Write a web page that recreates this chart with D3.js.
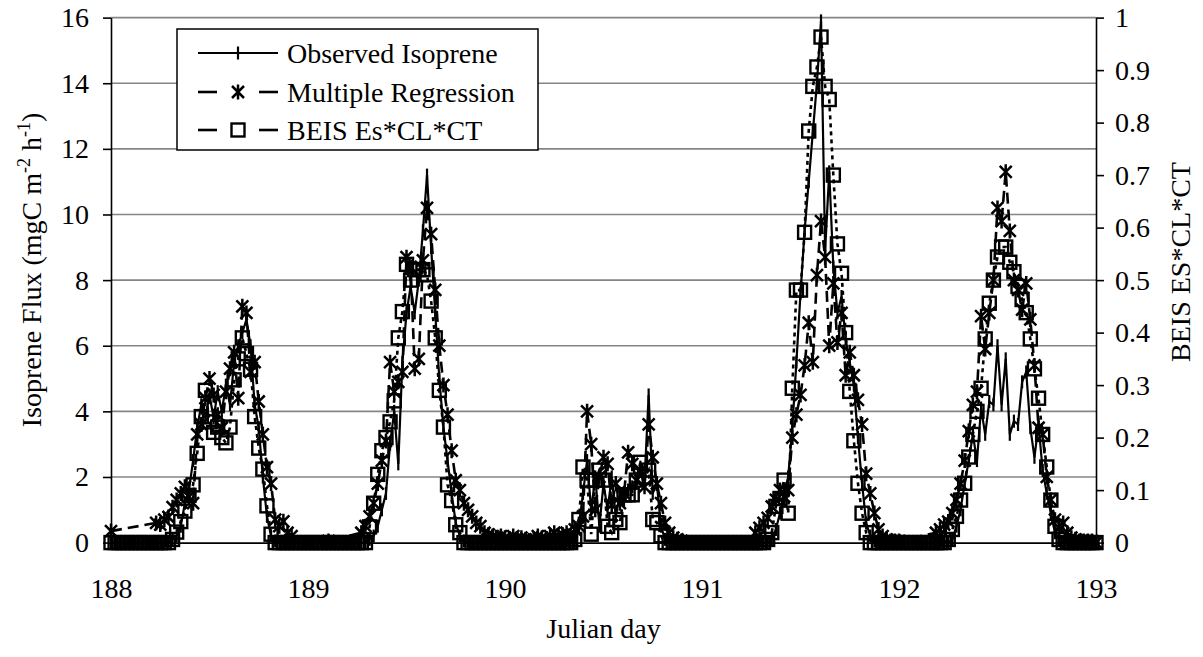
<!DOCTYPE html>
<html><head><meta charset="utf-8">
<script src="https://cdn.jsdelivr.net/npm/d3@7"></script>
<style>
html,body{margin:0;padding:0;background:#fff;}
svg text{font-family:'Liberation Serif','Times New Roman',Times,'DejaVu Serif',serif;fill:#000;}
</style></head><body>
<svg id="chart" width="1203" height="657"></svg>
<script>
// ---------------- data ----------------
const dayTicks = [188, 189, 190, 191, 192, 193];
const fluxTicks = [0, 2, 4, 6, 8, 10, 12, 14, 16];
const beisTicks = [0, 0.1, 0.2, 0.3, 0.4, 0.5, 0.6, 0.7, 0.8, 0.9, 1];
const samplesPerDay = 48; // half-hourly
const legendLabels = ["Observed Isoprene", "Multiple Regression", "BEIS Es*CL*CT"];

// Observed isoprene flux (mgC m-2 h-1), one row per Julian day, half-hourly
const observedByDay = [
  [0,0,0,0,0,0,0,0,0,0,0,0,0,0,0, 0.1,0.2,0.5,1.2,1.6,2.5,3.5,4.2,3.8,4.5,3.8,4.6,4.0,4.8,4.2,5.5,6.0,6.4,6.8,6.0,4.2,3.5,2.0,0.8,0.2,0.05, 0,0,0,0,0,0,0],
  [0,0,0,0,0,0,0,0,0,0,0,0,0,0,0, 0.1,0.2,0.5,1.0,1.5,3.0,4.0,2.4,5.5,7.0,7.8,7.0,8.0,9.5,11.2,9.0,7.0,5.0,3.5,2.5,1.5,0.6,0.2,0.05, 0,0,0,0,0,0,0,0,0],
  [0,0,0,0,0,0,0,0,0,0,0,0,0,0,0,0,0,0, 0.5,1.5,2.5,1.0,2.0,0.5,1.8,1.0,2.0,0.8,1.5,1.3,1.6,1.7,1.8,2.3,1.9,4.5,1.5,1.8,0.5,0.1, 0,0,0,0,0,0,0,0],
  [0,0,0,0,0,0,0,0,0,0,0,0,0,0,0,0,0, 0.1,0.4,0.9,1.5,2.0,3.5,5.5,7.6,9.5,11.0,12.5,14.0,15.9,8.9,11.3,8.4,7.0,7.5,6.2,5.5,4.8,3.2,1.8,0.6,0.2,0.05, 0,0,0,0,0],
  [0,0,0,0,0,0,0,0,0,0,0,0,0, 0.1,0.5,1.0,1.8,2.5,3.3,2.5,4.1,3.3,4.3,4.2,6.0,4.2,5.6,3.3,3.7,3.6,4.9,5.2,3.5,2.6,3.6,2.2,1.5,0.9,0.3,0.1, 0,0,0,0,0,0,0,0],
  [0]
];

// Multiple regression estimate (mgC m-2 h-1); null = no estimate
const regressionByDay = [
  [0.35, null,null,null,null,null,null,null,null,null,null, 0.6,0.55,0.7,0.78,1.08,1.3,1.5,1.7,1.4,1.2,3.3,3.6,4.4,5.0,4.5,3.9,3.5,4.6,5.3,5.8,4.4,7.2,7.0,5.2,5.5,4.3,3.3,2.3,1.8,0.7,0.5,0.65,0.3,0.2, null,null,null],
  [null,null,null,null,null, 0.05, null,null,null,null,null,null,null, 0.3,0.5,0.8,1.2,1.8,2.5,3.1,5.5,4.6,4.9,5.2,8.7,8.4,5.3,5.6,8.6,10.2,9.4,7.7,6.0,4.8,3.9,2.8,1.9,1.6,1.2,1.0,0.8,0.6,0.5,0.3,0.25,0.2,0.15,0.2],
  [0.15,0.1,0.2,0.1,0.15,0.1,0.05,0.1,0.2,0.15,0.1,0.2,0.3,0.2,0.25,0.3,0.2,0.4, 0.5,0.8,4.0,3.0,1.0,2.0,2.6,2.4,1.15,1.8,1.2,1.5,2.75,2.4,1.9,2.2,1.7,3.6,2.6,1.8,1.2,0.6,0.3,0.15, 0.1,0.05,0,0,0,0],
  [0,0,0,0,0,0,0,0,0,0,0,0,0, 0.3,0.45,0.6,0.75,1.1,1.3,1.6,1.4,1.6,3.2,3.9,4.5,5.4,6.7,5.5,8.15,9.8,8.7,6.0,7.9,6.1,7.0,5.1,5.8,5.1,4.35,3.6,2.1,1.5,0.9,0.4,0.2, 0.1,0.05,0.05],
  [0.05, null,null,null,null,null,null,null,null, 0.3,0.4,0.55,0.64,0.9,1.3,1.8,2.5,3.4,4.2,4.6,6.9,5.9,7.0,8.0,10.2,9.8,11.3,9.5,8.0,7.7,7.1,7.9,6.8,5.4,3.5,3.3,2.0,1.3,0.7,0.45,0.6,0.3,0.15, 0.1,0.05,0.05,0.05,0.05],
  [0]
];

// BEIS Es*CL*CT (right axis, 0-1)
const beisByDay = [
  [0,0,0,0,0,0,0,0,0,0,0,0,0,0,0, 0.006,0.02,0.04,0.06,0.09,0.11,0.17,0.24,0.29,0.23,0.21,0.22,0.2,0.19,0.22,0.31,0.35,0.39,0.36,0.33,0.24,0.18,0.14,0.07,0.016, 0,0,0,0,0,0,0,0],
  [0,0,0,0,0,0,0,0,0,0,0,0,0,0,0, 0.03,0.075,0.13,0.175,0.2,0.23,0.27,0.39,0.44,0.53,0.5,0.52,0.52,0.52,0.51,0.46,0.39,0.29,0.22,0.11,0.08,0.034,0.019, 0,0,0,0,0,0,0,0,0,0],
  [0,0,0,0,0,0,0,0,0,0,0,0,0,0,0,0,0, 0.006,0.044,0.144,0.119,0.016,0.119,0.138,0.119,0.031,0.019,0.044,0.038,0.091,0.091,0.091,0.119,0.153,0.125,0.138,0.044,0.038,0.013, 0,0,0,0,0,0,0,0,0],
  [0,0,0,0,0,0,0,0,0,0,0,0,0,0,0,0, 0.006,0.019,0.069,0.084,0.119,0.056,0.294,0.481,0.481,0.591,0.784,0.869,0.906,0.963,0.869,0.844,0.7,0.569,0.513,0.4,0.288,0.194,0.113,0.056,0.019, 0,0,0,0,0,0,0],
  [0,0,0,0,0,0,0,0,0,0,0,0, 0.006,0.025,0.05,0.081,0.113,0.163,0.206,0.25,0.294,0.388,0.456,0.5,0.544,0.563,0.563,0.534,0.516,0.488,0.463,0.438,0.388,0.331,0.275,0.206,0.144,0.081,0.031,0.006, 0,0,0,0,0,0,0,0],
  [0]
];

// ---------------- chart ----------------
const svg = d3.select("#chart");
const FONT = 28;
const FAMILY = "'Liberation Serif','Times New Roman',Times,'DejaVu Serif',serif";
const x = d3.scaleLinear().domain([188, 193]).range([111, 1096]);
const yL = d3.scaleLinear().domain([0, 16]).range([542.6, 17.6]);
const yR = d3.scaleLinear().domain([0, 1]).range([542.6, 17.6]);

function flatten(byDay) {
  const out = [];
  byDay.forEach((row, d) => row.forEach((v, i) => {
    if (v !== null) out.push({t: dayTicks[d] + i / samplesPerDay, v});
  }));
  return out;
}
const obsPts = flatten(observedByDay);
const regPts = flatten(regressionByDay);
const beisPts = flatten(beisByDay);

// gridlines
svg.append("g").selectAll("line").data(fluxTicks.filter(v => v > 0)).join("line")
  .attr("x1", x(188)).attr("x2", x(193))
  .attr("y1", d => yL(d)).attr("y2", d => yL(d))
  .attr("stroke", "#858585").attr("stroke-width", 1.6);

// axes
function styleAxis(g) {
  g.attr("font-family", FAMILY).attr("font-size", FONT);
  g.selectAll("path.domain").attr("stroke", "#000").attr("stroke-width", 1.6);
  g.selectAll(".tick line").attr("stroke", "#000").attr("stroke-width", 1.6);
  g.selectAll("text").style("font-family", FAMILY).style("font-size", FONT + "px").attr("fill", "#000");
}
svg.append("g").attr("transform", `translate(${x(188)},0)`)
  .call(d3.axisLeft(yL).tickValues(fluxTicks).tickSize(8).tickSizeOuter(0).tickPadding(14).tickFormat(d3.format("d")))
  .call(styleAxis);
svg.append("g").attr("transform", `translate(${x(193)},0)`)
  .call(d3.axisRight(yR).tickValues(beisTicks).tickSize(8).tickSizeOuter(0).tickPadding(11)
    .tickFormat(d => (d === 0 || d === 1) ? String(d) : d3.format(".1f")(d)))
  .call(styleAxis);
svg.append("g").attr("transform", `translate(0,${yL(0)})`)
  .call(d3.axisBottom(x).tickValues(dayTicks).tickSize(6).tickSizeOuter(0).tickPadding(30).tickFormat(d3.format("d")))
  .call(styleAxis);

// series
const plot = svg.append("g");
const lineL = d3.line().x(d => x(d.t)).y(d => yL(d.v));
const lineR = d3.line().x(d => x(d.t)).y(d => yR(d.v));

// observed
plot.append("path").attr("d", lineL(obsPts)).attr("fill", "none").attr("stroke", "#000").attr("stroke-width", 2.2);
plot.append("g").selectAll("line").data(obsPts).join("line")
  .attr("x1", d => x(d.t)).attr("x2", d => x(d.t))
  .attr("y1", d => yL(d.v) - 6.5).attr("y2", d => yL(d.v) + 6.5)
  .attr("stroke", "#000").attr("stroke-width", 2.2);

// regression
function star(g, cx, cy) {
  const a = 6, b = 7.5;
  g.append("path").attr("d", `M${cx-a},${cy-a}L${cx+a},${cy+a}M${cx-a},${cy+a}L${cx+a},${cy-a}M${cx},${cy-b}L${cx},${cy+b}`)
    .attr("stroke", "#000").attr("stroke-width", 2.5).attr("fill", "none");
}
plot.append("path").attr("d", lineL(regPts)).attr("fill", "none").attr("stroke", "#000").attr("stroke-width", 2.6).attr("stroke-dasharray", "11,6");
const starG = plot.append("g");
regPts.forEach(d => star(starG, x(d.t), yL(d.v)));

// BEIS
plot.append("path").attr("d", lineR(beisPts)).attr("fill", "none").attr("stroke", "#000").attr("stroke-width", 2.6).attr("stroke-dasharray", "4,4");
plot.append("g").selectAll("rect").data(beisPts).join("rect")
  .attr("x", d => x(d.t) - 6.5).attr("y", d => yR(d.v) - 6.5).attr("width", 13).attr("height", 13)
  .attr("fill", "none").attr("stroke", "#000").attr("stroke-width", 2.4);

// axis titles
const lt = svg.append("text").attr("transform", "translate(41,270) rotate(-90)").attr("text-anchor", "middle")
  .style("font-family", FAMILY).style("font-size", FONT + "px");
lt.append("tspan").text("Isoprene Flux (mgC m");
lt.append("tspan").style("font-size", "18px").attr("dy", -11).text("-2");
lt.append("tspan").attr("dy", 11).text(" h");
lt.append("tspan").style("font-size", "18px").attr("dy", -11).text("-1");
lt.append("tspan").attr("dy", 11).text(")");

svg.append("text").attr("transform", "translate(1190,262) rotate(-90)").attr("text-anchor", "middle")
  .style("font-family", FAMILY).style("font-size", FONT + "px").text("BEIS ES*CL*CT");
svg.append("text").attr("x", (x(188) + x(193)) / 2).attr("y", 638).attr("text-anchor", "middle")
  .style("font-family", FAMILY).style("font-size", FONT + "px").text("Julian day");

// legend
const lg = svg.append("g");
lg.append("rect").attr("x", 177).attr("y", 29).attr("width", 361).attr("height", 121).attr("fill", "#fff").attr("stroke", "#000").attr("stroke-width", 1.5);
const rowsY = [53, 92, 130];
legendLabels.forEach((lab, i) => {
  const cy = rowsY[i];
  if (i === 0) {
    lg.append("line").attr("x1", 198).attr("x2", 278).attr("y1", cy).attr("y2", cy).attr("stroke", "#000").attr("stroke-width", 2.2);
    lg.append("line").attr("x1", 238).attr("x2", 238).attr("y1", cy - 6.5).attr("y2", cy + 6.5).attr("stroke", "#000").attr("stroke-width", 2.2);
  } else {
    [[198, 217], [259, 278]].forEach(([a, b]) => lg.append("line").attr("x1", a).attr("x2", b).attr("y1", cy).attr("y2", cy).attr("stroke", "#000").attr("stroke-width", 2.6));
    if (i === 1) star(lg, 238, cy);
    else lg.append("rect").attr("x", 231.5).attr("y", cy - 6.5).attr("width", 13).attr("height", 13).attr("fill", "none").attr("stroke", "#000").attr("stroke-width", 2.4);
  }
  lg.append("text").attr("x", 287).attr("y", cy + 10).style("font-family", FAMILY).style("font-size", FONT + "px").text(lab);
});
</script>
</body></html>
